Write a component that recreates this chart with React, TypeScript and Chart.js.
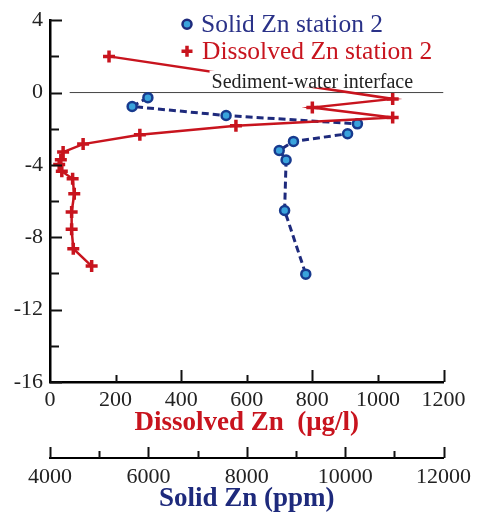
import React, { useEffect, useRef } from 'react';
import { Chart, registerables } from 'chart.js';
Chart.register(...registerables);

// Dissolved Zn (µg/l) vs depth (cm), station 2
const dissolvedZn = [180, 1045, 800, 1045, 567, 274, 101, 40, 33, 28, 36, 69, 74, 66, 66, 71, 127];
const dissolvedDepth = [2, -0.35, -0.83, -1.38, -1.84, -2.33, -2.85, -3.29, -3.71, -3.98, -4.35, -4.77, -5.6, -6.6, -7.56, -8.63, -9.59];
// Solid Zn (ppm) vs depth (cm), station 2
const solidZn = [5990, 5670, 7580, 10250, 10050, 8950, 8660, 8800, 8770, 9200];
const solidDepth = [-0.28, -0.77, -1.27, -1.73, -2.28, -2.7, -3.2, -3.73, -6.52, -10.04];
// Sediment-water interface
const interfaceX = [60, 1200];
const interfaceY = [0, 0];
const interfaceLabel = 'Sediment-water interface';
const interfaceLabelX = 800;

const legendLabels = ['Solid Zn station 2', 'Dissolved Zn station 2'];

const yMajorTicks = [4, 0, -4, -8, -12, -16];
const yMinorTicks = [2, -2, -6, -10, -14];
const xMajorTicks = [400, 800, 1200];
const xMinorTicks = [200, 600, 1000];
const x2MajorTicks = [4000, 6000, 8000, 10000, 12000];
const x2MinorTicks = [5000, 7000, 9000, 11000];

const RED = '#c8141e';
const NAVY = '#1e2a7c';
const LIGHTBLUE = '#3aa3dc';
const SERIF = '"Liberation Serif", "Times New Roman", serif';

const plainLabel = (v: any) => String(v);

const ticksPlugin = {
  id: 'customTicks',
  afterDatasetsDraw(chart: any) {
    const ctx = chart.ctx;
    const { x, x2, y } = chart.scales;
    const area = chart.chartArea;
    ctx.save();
    // interface label with white backing
    ctx.font = `20px ${SERIF}`;
    const tw = ctx.measureText(interfaceLabel).width;
    const cx = x.getPixelForValue(interfaceLabelX);
    const by = y.getPixelForValue(0) - 5;
    ctx.fillStyle = '#ffffff';
    ctx.fillRect(cx - tw / 2 - 2, by - 17, tw + 4, 17);
    ctx.fillStyle = '#222';
    ctx.textAlign = 'center';
    ctx.textBaseline = 'alphabetic';
    ctx.fillText(interfaceLabel, cx, by);

    ctx.strokeStyle = '#111';
    ctx.lineWidth = 2;
    const drawY = (vals: number[], len: number) => {
      vals.forEach((v) => {
        const py = Math.round(y.getPixelForValue(v)) + 0.5;
        ctx.beginPath();
        ctx.moveTo(area.left, py);
        ctx.lineTo(area.left + len, py);
        ctx.stroke();
      });
    };
    drawY(yMajorTicks, 12);
    drawY(yMinorTicks, 9);
    const drawX = (sc: any, vals: number[], len: number, base: number) => {
      vals.forEach((v) => {
        const px = Math.round(sc.getPixelForValue(v)) + 0.5;
        ctx.beginPath();
        ctx.moveTo(px, base);
        ctx.lineTo(px, base - len);
        ctx.stroke();
      });
    };
    drawX(x, xMajorTicks, 12, area.bottom);
    drawX(x, xMinorTicks, 7, area.bottom);
    drawX(x2, x2MajorTicks, 11, x2.top);
    drawX(x2, x2MinorTicks, 7, x2.top);

    // legend
    const lx = area.left + 137;
    const ly1 = area.top + 4;
    const ly2 = area.top + 31;
    ctx.beginPath();
    ctx.arc(lx, ly1, 4.5, 0, Math.PI * 2);
    ctx.fillStyle = LIGHTBLUE;
    ctx.fill();
    ctx.lineWidth = 2.5;
    ctx.strokeStyle = NAVY;
    ctx.stroke();
    ctx.strokeStyle = RED;
    ctx.lineWidth = 3.5;
    ctx.beginPath();
    ctx.moveTo(lx - 5.5, ly2);
    ctx.lineTo(lx + 5.5, ly2);
    ctx.moveTo(lx, ly2 - 5.5);
    ctx.lineTo(lx, ly2 + 5.5);
    ctx.stroke();
    ctx.font = `25.5px ${SERIF}`;
    ctx.textAlign = 'left';
    ctx.textBaseline = 'middle';
    ctx.fillStyle = '#2a3288';
    ctx.fillText(legendLabels[0], lx + 14, ly1 + 1);
    ctx.fillStyle = RED;
    ctx.fillText(legendLabels[1], lx + 15, ly2 + 1);
    ctx.restore();
  },
};

export default function App() {
  const ref = useRef<HTMLCanvasElement>(null);
  useEffect(() => {
    const canvas = ref.current;
    if (!canvas) return;
    const chart = new Chart(canvas, {
      type: 'scatter',
      data: {
        datasets: [
          {
            label: legendLabels[1],
            data: dissolvedZn.map((v, i) => ({ x: v, y: dissolvedDepth[i] })),
            xAxisID: 'x',
            yAxisID: 'y',
            showLine: true,
            borderColor: RED,
            backgroundColor: RED,
            borderWidth: 2.5,
            pointStyle: 'cross',
            pointRadius: 6,
            pointBorderWidth: 3.5,
            pointBorderColor: RED,
            clip: false,
          } as any,
          {
            label: legendLabels[0],
            data: solidZn.map((v, i) => ({ x: v, y: solidDepth[i] })),
            xAxisID: 'x2',
            yAxisID: 'y',
            showLine: true,
            borderColor: NAVY,
            borderDash: [7, 4],
            borderWidth: 3,
            pointStyle: 'circle',
            pointRadius: 4.5,
            pointBorderWidth: 2.5,
            pointBorderColor: '#173a8e',
            pointBackgroundColor: LIGHTBLUE,
            clip: false,
          } as any,
          {
            label: interfaceLabel,
            data: interfaceX.map((v, i) => ({ x: v, y: interfaceY[i] })),
            xAxisID: 'x',
            yAxisID: 'y',
            showLine: true,
            borderColor: '#444',
            borderWidth: 1,
            pointRadius: 0,
          } as any,
        ],
      },
      options: {
        responsive: false,
        animation: false,
        layout: { padding: { top: 19, right: 32, left: 0, bottom: 0 } },
        plugins: { legend: { display: false }, tooltip: { enabled: false } },
        scales: {
          y: {
            type: 'linear',
            position: 'left',
            min: -16,
            max: 4,
            afterFit: (s: any) => { s.width = 50; },
            grid: { display: false, drawTicks: false },
            border: { display: true, color: '#000', width: 2.5 },
            ticks: {
              stepSize: 4,
              padding: 7,
              color: '#222',
              font: { family: SERIF, size: 22 },
              callback: plainLabel,
            },
          },
          x: {
            type: 'linear',
            position: 'bottom',
            weight: 0,
            min: 0,
            max: 1200,
            afterFit: (s: any) => { s.height = 76; },
            grid: { display: false, drawTicks: false },
            border: { display: true, color: '#000', width: 2.5 },
            ticks: {
              stepSize: 200,
              autoSkip: false,
              maxRotation: 0,
              padding: 5,
              color: '#222',
              font: { family: SERIF, size: 22 },
              callback: plainLabel,
            },
            title: {
              display: true,
              text: 'Dissolved Zn  (μg/l)',
              color: RED,
              font: { family: SERIF, size: 27, weight: 'bold' },
              padding: { top: 0, bottom: 19 },
            },
          },
          x2: {
            type: 'linear',
            position: 'bottom',
            weight: 1,
            min: 4000,
            max: 12000,
            afterFit: (s: any) => { s.height = 60; },
            grid: { display: false, drawTicks: false },
            border: { display: true, color: '#000', width: 2 },
            ticks: {
              stepSize: 2000,
              autoSkip: false,
              maxRotation: 0,
              padding: 6,
              color: '#222',
              font: { family: SERIF, size: 22 },
              callback: plainLabel,
            },
            title: {
              display: true,
              text: 'Solid Zn (ppm)',
              color: NAVY,
              font: { family: SERIF, size: 27, weight: 'bold' },
              padding: { top: 0, bottom: 3 },
            },
          },
        },
      } as any,
      plugins: [ticksPlugin],
    });
    return () => chart.destroy();
  }, []);
  return (
    <div style={{ position: 'fixed', left: 0, top: 0, width: 477, height: 518, background: '#fff' }}>
      <canvas ref={ref} width={477} height={518} style={{ display: 'block' }} />
    </div>
  );
}
